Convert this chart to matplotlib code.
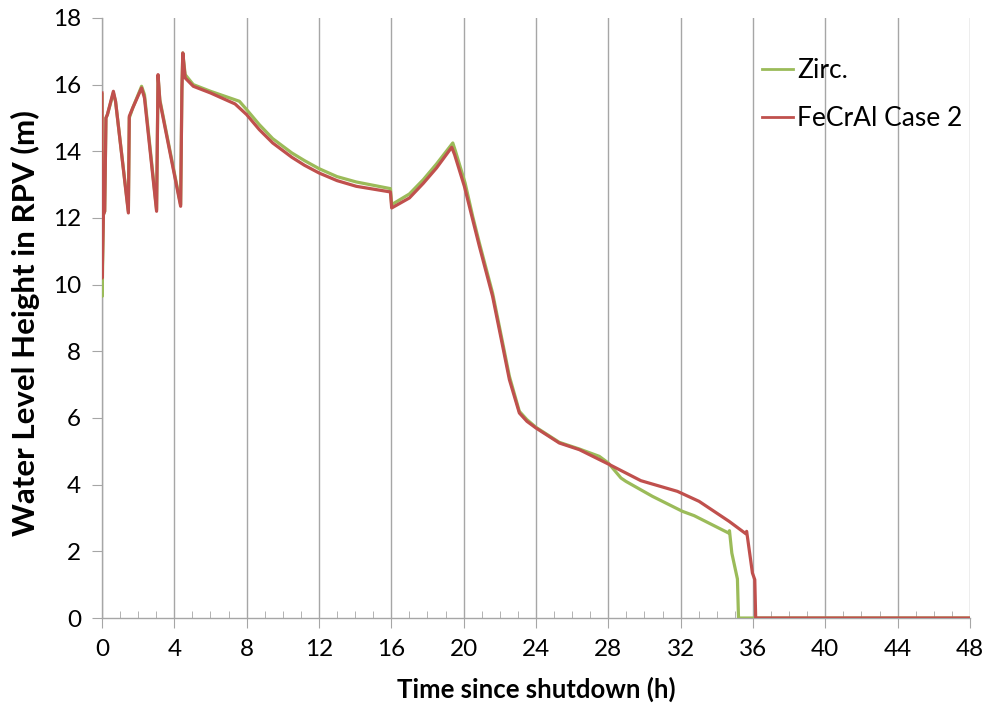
import matplotlib
matplotlib.use("Agg")
import matplotlib.pyplot as plt
from matplotlib.ticker import MultipleLocator

plt.rcParams['font.family'] = ['Lato', 'DejaVu Sans']

# Zircaloy series
zirc_t = [0, 0.01, 0.08, 0.15, 0.22, 0.3, 0.63, 0.75, 1.46, 1.51, 1.7, 2.19, 2.35, 3.02, 3.1, 3.2,
          4.35, 4.42, 4.47, 4.6, 5.05, 6.0, 7.6, 8.0, 8.7, 9.44, 10.5, 11.2, 12.0, 13.0, 14.06, 15.95, 16.02,
          17.0, 17.77, 18.5, 19.4, 19.55, 20.08, 20.5, 20.87, 21.6, 22.16, 22.53, 23.08, 23.5,
          24.0, 25.29, 26.4, 27.5, 28.0, 28.7, 28.97, 30.44, 32.1, 32.75, 34.65, 34.7, 34.83,
          35.14, 35.2, 48.0]
zirc_h = [15.7, 9.65, 12.1, 12.2, 15.0, 15.1, 15.75, 15.5, 12.2, 15.0, 15.3, 15.95, 15.7, 12.25,
          16.25, 15.55, 12.4, 15.9, 16.95, 16.3, 16.0, 15.8, 15.5, 15.25, 14.8, 14.38, 13.95, 13.72, 13.48, 13.24,
          13.08, 12.88, 12.4, 12.72, 13.15, 13.62, 14.25, 14.0, 13.05, 12.05, 11.25, 9.75, 8.25,
          7.25, 6.2, 5.95, 5.72, 5.27, 5.07, 4.85, 4.65, 4.2, 4.1, 3.65, 3.2, 3.07, 2.55, 2.62,
          1.95, 1.17, 0.0, 0.0]

# FeCrAl Case 2 series
fecral_t = [0, 0.01, 0.08, 0.15, 0.22, 0.3, 0.63, 0.75, 1.46, 1.51, 1.7, 2.19, 2.35, 3.02, 3.1, 3.2,
            4.35, 4.42, 4.47, 4.6, 5.05, 6.0, 7.36, 8.0, 8.7, 9.44, 10.5, 11.2, 12.0, 13.0, 14.06, 15.95, 16.02,
            17.0, 17.77, 18.5, 19.34, 19.5, 20.04, 20.5, 20.87, 21.6, 22.16, 22.53, 23.08, 23.5,
            24.0, 25.29, 26.4, 28.0, 29.8, 31.82, 33.02, 34.68, 35.6, 35.65, 35.97, 36.1, 36.15, 48.0]
fecral_h = [15.75, 10.2, 12.1, 12.2, 15.0, 15.1, 15.8, 15.5, 12.15, 15.05, 15.3, 15.9, 15.6, 12.2,
            16.3, 15.5, 12.35, 15.85, 16.95, 16.2, 15.95, 15.75, 15.42, 15.1, 14.65, 14.25, 13.82, 13.58, 13.35, 13.12,
            12.95, 12.78, 12.3, 12.6, 13.04, 13.5, 14.12, 13.9, 12.95, 11.95, 11.15, 9.65, 8.15,
            7.15, 6.15, 5.9, 5.7, 5.25, 5.05, 4.62, 4.12, 3.8, 3.5, 2.9, 2.53, 2.6, 1.35, 1.15, 0.0, 0.0]

x_ticks = list(range(0, 49, 4))
y_ticks = list(range(0, 19, 2))

fig = plt.figure(figsize=(9.92, 7.06), dpi=100)
ax = fig.add_axes([0.1028, 0.1246, 0.875, 0.85])

grid_col = '#a6a6a6'
ax.plot(zirc_t, zirc_h, color='#9bbb59', lw=2.3, label='Zirc.', zorder=3)
ax.plot(fecral_t, fecral_h, color='#c0504d', lw=2.3, label='FeCrAl Case 2', zorder=4)

ax.set_xlim(0, 48)
ax.set_ylim(0, 18)
ax.set_xticks(x_ticks)
ax.set_yticks(y_ticks)
ax.xaxis.set_minor_locator(MultipleLocator(1))
ax.grid(axis='x', which='major', color=grid_col, lw=1.0)
ax.set_axisbelow(True)

for s in ['top', 'right']:
    ax.spines[s].set_visible(False)
for s in ['left', 'bottom']:
    ax.spines[s].set_color(grid_col)
    ax.spines[s].set_linewidth(1.0)

ax.tick_params(axis='x', which='major', direction='out', length=7, color=grid_col,
               labelsize=17.5, pad=8)
ax.tick_params(axis='x', which='minor', direction='in', length=5, color=grid_col)
ax.tick_params(axis='y', which='major', direction='out', length=7, color=grid_col,
               labelsize=17.5, pad=8)

ax.set_xlabel('Time since shutdown (h)', fontsize=18.5, fontweight='bold')
ax.set_ylabel('Water Level Height in RPV (m)', fontsize=22.5, fontweight='bold')
ax.xaxis.set_label_coords(0.5, -0.098)
ax.yaxis.set_label_coords(-0.071, 0.492)

leg = ax.legend(loc='upper left', bbox_to_anchor=(0.733, 0.9725), frameon=False, fontsize=19,
                handlelength=1.17, handletextpad=0.15, labelspacing=0.875)
for h in leg.get_lines():
    h.set_linewidth(2.0)

fig.savefig('out.png', dpi=100)
